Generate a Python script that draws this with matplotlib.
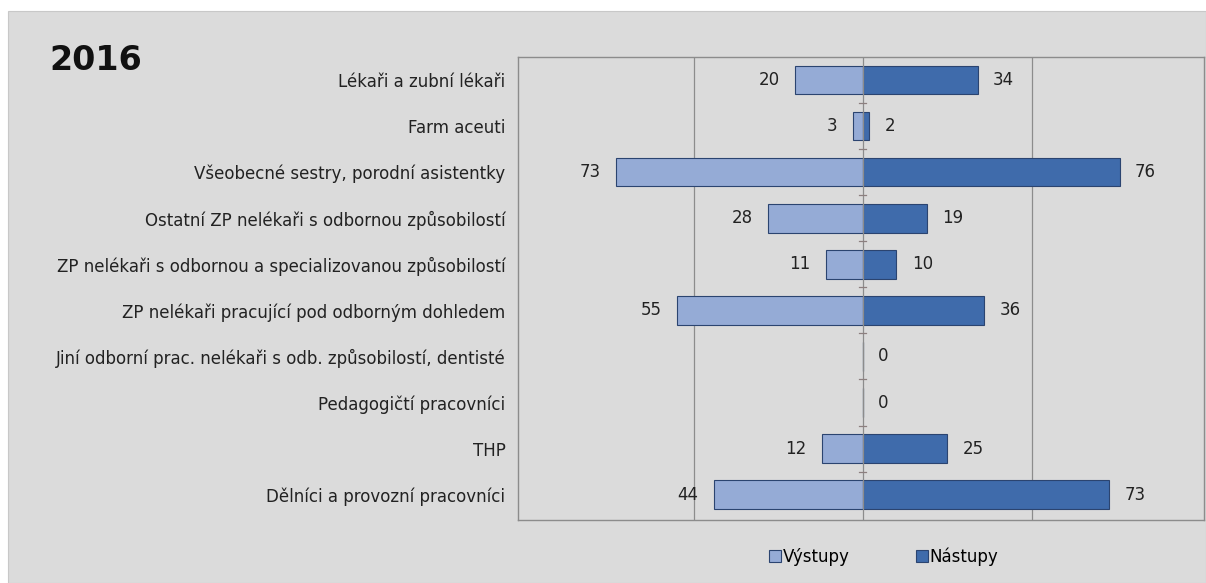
import matplotlib.pyplot as plt
from matplotlib.patches import Rectangle
from matplotlib.lines import Line2D

# data
categories = [
    "Lékaři a zubní lékaři",
    "Farm aceuti",
    "Všeobecné sestry, porodní asistentky",
    "Ostatní ZP nelékaři s odbornou způsobilostí",
    "ZP nelékaři s odbornou a specializovanou způsobilostí",
    "ZP nelékaři pracující pod odborným dohledem",
    "Jiní odborní prac. nelékaři s odb. způsobilostí, dentisté",
    "Pedagogičtí pracovníci",
    "THP",
    "Dělníci a provozní pracovníci",
]
vystupy = [20, 3, 73, 28, 11, 55, 0, 0, 12, 44]
nastupy = [34, 2, 76, 19, 10, 36, 0, 0, 25, 73]

C_OUT = "#95abd6"
C_IN = "#3f6bab"
EDGE = "#2b4470"
BG = "#dbdbdb"
FS = 12

fig = plt.figure(figsize=(12.06, 5.83), dpi=100, facecolor="white")
W, H = 1206, 583
fig.patches.append(Rectangle((8 / W, 0), 1 - 8 / W, 1 - 11 / H,
                             transform=fig.transFigure, facecolor=BG,
                             edgecolor="#c8c8c8", lw=0.8, zorder=-1))

ax = fig.add_axes([518 / W, 1 - 520 / H, (1204 - 518) / W, (520 - 57) / H])
ax.set_facecolor(BG)

y = list(range(len(categories)))
left = [-v for v in vystupy]
ax.barh(y, left, height=0.62, color=C_OUT, edgecolor=EDGE, lw=0.8, zorder=3)
ax.barh(y, nastupy, height=0.62, color=C_IN, edgecolor=EDGE, lw=0.8, zorder=3)

ax.set_xlim(-102, 101)
ax.set_ylim(len(categories) - 0.45, -0.5)

# vertical gridlines at +-50 and zero axis with small ticks
for gx in (-50, 50):
    ax.axvline(gx, color="#8c8c8c", lw=0.9, zorder=1)
ax.axvline(0, color="#8c8c8c", lw=0.9, zorder=4)
for i in range(len(categories) - 1):
    ax.plot([-1.0, 1.0], [i + 0.5, i + 0.5], color="#8c7f7f", lw=0.9, zorder=4)

# value labels
for i, (a, b) in enumerate(zip(vystupy, nastupy)):
    if a > 0:
        ax.annotate(str(a), (-a, i), xytext=(-11, 0), textcoords="offset points",
                    ha="right", va="center", fontsize=FS, color="#222222")
    ax.annotate(str(b), (b, i), xytext=(11, 0), textcoords="offset points",
                ha="left", va="center", fontsize=FS, color="#222222")

ax.set_yticks(y)
ax.set_yticklabels(categories, fontsize=FS, color="#222222")
ax.tick_params(axis="y", length=0, pad=9)
ax.set_xticks([])
for s in ax.spines.values():
    s.set_color("#8c8c8c")
    s.set_linewidth(1.0)

fig.text(96 / W, 1 - 61 / H, "2016", fontsize=24, fontweight="bold",
         va="center", ha="center", color="#111111")

handles = [
    Line2D([], [], marker="s", ls="none", markersize=8, markerfacecolor=C_OUT,
           markeredgecolor=EDGE, markeredgewidth=0.8),
    Line2D([], [], marker="s", ls="none", markersize=8, markerfacecolor=C_IN,
           markeredgecolor=EDGE, markeredgewidth=0.8),
]
fig.legend(handles, ["Výstupy", "Nástupy"], loc="center",
           bbox_to_anchor=(884 / W, 1 - 557 / H), ncol=2, frameon=False,
           fontsize=FS, handlelength=0.7, handletextpad=0.1, columnspacing=4.0)

fig.savefig("out.png", dpi=100, facecolor=fig.get_facecolor())
